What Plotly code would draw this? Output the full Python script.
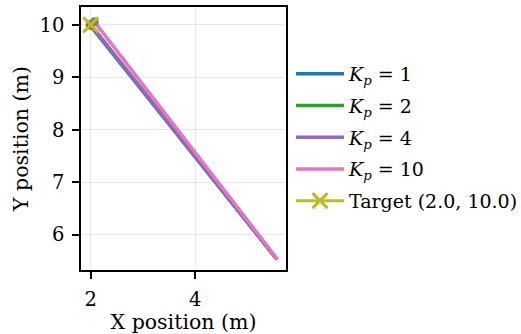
import plotly.graph_objects as go

# Trajectories of the proportional controller for several gains
gains = [1, 2, 4, 10]
start_x = [5.56, 5.56, 5.56, 5.575]
start_y = [5.53, 5.53, 5.53, 5.525]
end_x = [1.99, 2.0, 2.0, 2.07]
end_y = [9.99, 10.0, 10.0, 10.06]
line_colors = ["#1f77b4", "#2ca02c", "#9467bd", "#e377c2"]
end_colors = ["#ff7f0e", "#d62728", "#8c564b", "#7f7f7f"]

target_x = [2.0]
target_y = [10.0]

x_ticks = [2, 4]
y_ticks = [6, 7, 8, 9, 10]

FONT = "DejaVu Serif"

fig = go.Figure()

for k, sx, sy, ex, ey, lc, ec in zip(gains, start_x, start_y, end_x, end_y,
                                      line_colors, end_colors):
    fig.add_trace(go.Scatter(
        x=[sx, ex], y=[sy, ey], mode="lines",
        line=dict(color=lc, width=3.5),
        name=f"<i>K</i><sub><i>p</i></sub> = {k}",
        legendgroup=f"kp{k}",
    ))
    fig.add_trace(go.Scatter(
        x=[ex], y=[ey], mode="markers",
        marker=dict(color=ec, size=9, symbol="circle"),
        showlegend=False, hoverinfo="skip", legendgroup=f"kp{k}",
    ))

fig.add_trace(go.Scatter(
    x=target_x, y=target_y, mode="lines+markers",
    line=dict(color="#bcbd22", width=3),
    marker=dict(symbol="x-thin", size=15,
                line=dict(color="#bcbd22", width=3), color="#bcbd22"),
    name=f"Target ({target_x[0]:.1f}, {target_y[0]:.1f})",
    legendgroup="target",
))

axis_common = dict(
    showline=True, linecolor="black", linewidth=1.6, mirror=True,
    ticks="outside", ticklen=7, tickwidth=1.5, tickcolor="black",
    ticklabelstandoff=4,
    showgrid=True, gridcolor="rgba(0,0,0,0.09)", gridwidth=1,
    zeroline=False,
    tickfont=dict(family=FONT, size=19.5, color="black"),
)

fig.update_layout(
    width=521, height=334,
    margin=dict(l=81, r=235, t=7, b=64, autoexpand=False),
    paper_bgcolor="white", plot_bgcolor="white",
    font=dict(family=FONT, size=19, color="black"),
    xaxis=dict(range=[1.815, 5.735], tickvals=x_ticks,
               title=dict(text="X position (m)", standoff=4,
                          font=dict(family=FONT, size=20.5)),
               **axis_common),
    yaxis=dict(range=[5.325, 10.34], tickvals=y_ticks,
               title=dict(text="Y position (m)", standoff=5,
                          font=dict(family=FONT, size=20.5)),
               **axis_common),
    legend=dict(xref="container", yref="container",
                x=291 / 521, y=1 - 55 / 334, xanchor="left", yanchor="top",
                font=dict(family=FONT, size=19), bgcolor="rgba(0,0,0,0)",
                itemwidth=48, tracegroupgap=4),
    showlegend=True,
)

fig.write_html("out.html")
